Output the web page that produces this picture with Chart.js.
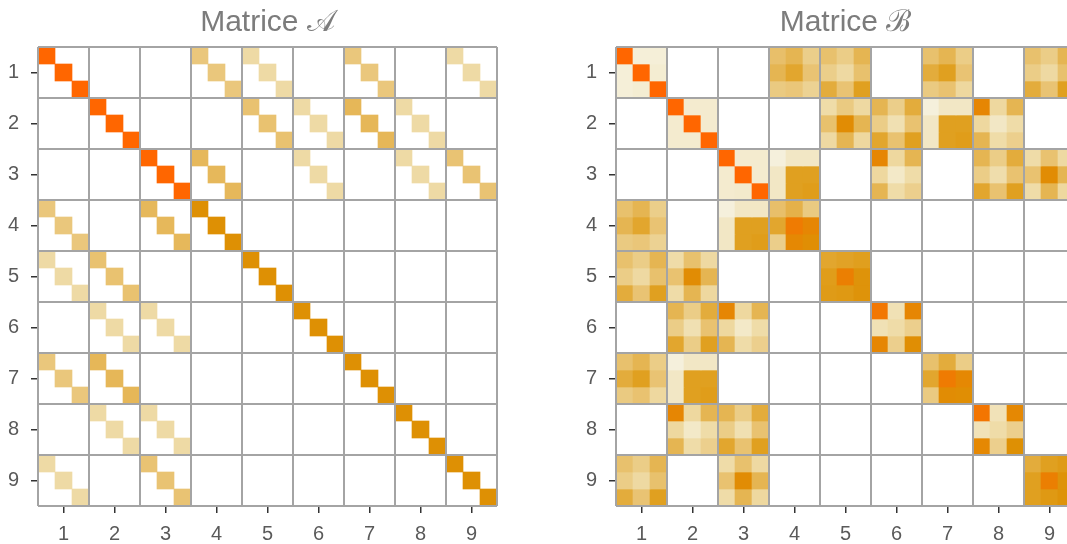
<!DOCTYPE html>
<html>
<head>
<meta charset="utf-8">
<script src="https://cdn.jsdelivr.net/npm/chart.js@4.4.1/dist/chart.umd.min.js"></script>
<style>
  html, body { margin: 0; padding: 0; background: #fff; overflow: hidden; width: 1067px; height: 544px; }
  canvas { position: absolute; top: 0; }
  #chartA { left: 0; }
  #chartB { left: 578px; }
</style>
</head>
<body>
<canvas id="chartA" width="535" height="544"></canvas>
<canvas id="chartB" width="535" height="544"></canvas>
<script>
// 27 x 27 matrices shown as 9 x 9 blocks of 3 x 3 entries
const blockLabels = ['1', '2', '3', '4', '5', '6', '7', '8', '9'];
const blockEdges = [0, 3, 6, 9, 12, 15, 18, 21, 24, 27];
const blockCentres = [1.5, 4.5, 7.5, 10.5, 13.5, 16.5, 19.5, 22.5, 25.5];

// Matrix A: diagonal value of each diagonal block
const diagA = [1, 1, 1, 0.8, 0.8, 0.8, 0.8, 0.8, 0.8];
// Matrix A: off-diagonal blocks [blockRow, blockCol, value on the block diagonal]
const offA = [
  [1, 4, 0.33], [1, 5, 0.19], [1, 7, 0.33], [1, 9, 0.19],
  [2, 5, 0.37], [2, 6, 0.19], [2, 7, 0.45], [2, 8, 0.19],
  [3, 4, 0.44], [3, 6, 0.19], [3, 8, 0.19], [3, 9, 0.36],
  [4, 1, 0.33], [4, 3, 0.44],
  [5, 1, 0.19], [5, 2, 0.37],
  [6, 2, 0.19], [6, 3, 0.19],
  [7, 1, 0.33], [7, 2, 0.45],
  [8, 2, 0.19], [8, 3, 0.19],
  [9, 1, 0.19], [9, 3, 0.36]
];

// Matrix B: non-zero blocks [blockRow, blockCol, 3x3 entries]
const blocksB = [
  [1, 1, [[1, .03, .03], [.03, 1, .05], [.03, .05, 1]]],
  [1, 4, [[.39, .47, .28], [.47, .6, .36], [.31, .34, .25]]],
  [1, 5, [[.38, .29, .47], [.28, .2, .38], [.55, .36, .65]]],
  [1, 7, [[.38, .47, .29], [.55, .65, .36], [.31, .37, .21]]],
  [1, 9, [[.38, .29, .47], [.29, .2, .38], [.55, .36, .65]]],
  [2, 2, [[1, .06, .06], [.06, 1, .06], [.06, .06, 1]]],
  [2, 5, [[.18, .31, .2], [.38, .82, .47], [.2, .47, .21]]],
  [2, 6, [[.47, .28, .55], [.29, .15, .37], [.6, .37, .65]]],
  [2, 7, [[.02, .09, .09], [.09, .65, .65], [.09, .65, .68]]],
  [2, 8, [[.85, .21, .47], [.21, .09, .18], [.47, .18, .27]]],
  [3, 3, [[1, .06, .06], [.06, 1, .06], [.06, .07, 1]]],
  [3, 4, [[.02, .09, .09], [.09, .65, .65], [.09, .65, .68]]],
  [3, 6, [[.85, .21, .47], [.21, .08, .18], [.47, .18, .27]]],
  [3, 8, [[.47, .29, .55], [.29, .17, .37], [.6, .37, .65]]],
  [3, 9, [[.18, .37, .2], [.37, .82, .47], [.18, .47, .21]]],
  [4, 1, [[.38, .47, .28], [.47, .6, .36], [.31, .34, .25]]],
  [4, 3, [[.02, .09, .09], [.09, .65, .65], [.09, .65, .68]]],
  [4, 4, [[.39, .5, .31], [.6, .9, .85], [.28, .84, .81]]],
  [5, 1, [[.38, .29, .47], [.29, .2, .38], [.55, .36, .65]]],
  [5, 2, [[.18, .38, .2], [.37, .82, .47], [.18, .47, .21]]],
  [5, 5, [[.6, .63, .66], [.68, .88, .77], [.7, .72, .77]]],
  [6, 2, [[.47, .29, .55], [.29, .15, .37], [.6, .29, .65]]],
  [6, 3, [[.85, .21, .47], [.21, .08, .18], [.47, .18, .27]]],
  [6, 6, [[.92, .14, .85], [.14, .18, .27], [.85, .27, .81]]],
  [7, 1, [[.38, .47, .29], [.55, .65, .36], [.31, .37, .21]]],
  [7, 2, [[.02, .09, .09], [.09, .65, .65], [.09, .65, .68]]],
  [7, 7, [[.38, .55, .29], [.6, .9, .84], [.31, .82, .81]]],
  [8, 2, [[.85, .21, .47], [.21, .08, .18], [.47, .18, .27]]],
  [8, 3, [[.47, .29, .55], [.29, .15, .37], [.6, .37, .65]]],
  [8, 8, [[.93, .13, .84], [.13, .18, .27], [.84, .27, .8]]],
  [9, 1, [[.38, .29, .47], [.29, .2, .38], [.55, .36, .65]]],
  [9, 3, [[.18, .38, .2], [.37, .82, .47], [.18, .47, .21]]],
  [9, 9, [[.55, .65, .7], [.65, .88, .77], [.65, .72, .77]]]
];

// colour ramp for positive entries: cream -> sand -> amber -> orange
const colorStops = [
  [0.00, [246, 243, 226]],
  [0.20, [238, 217, 162]],
  [0.45, [230, 183, 88]],
  [0.65, [224, 160, 32]],
  [0.80, [222, 144, 4]],
  [1.00, [255, 102, 0]]
];
function colorFor(v) {
  for (let k = 1; k < colorStops.length; k++) {
    const [v1, c1] = colorStops[k];
    const [v0, c0] = colorStops[k - 1];
    if (v <= v1) {
      const t = (v - v0) / (v1 - v0);
      const c = c0.map((ch, i) => Math.round(ch + (c1[i] - ch) * t));
      return `rgb(${c[0]},${c[1]},${c[2]})`;
    }
  }
  const c = colorStops[colorStops.length - 1][1];
  return `rgb(${c[0]},${c[1]},${c[2]})`;
}

const N = 27;
function emptyMatrix() { return Array.from({ length: N }, () => new Array(N).fill(0)); }

// assemble A from its diagonal and its identity-like off-diagonal blocks
const matA = emptyMatrix();
diagA.forEach((v, b) => { for (let k = 0; k < 3; k++) matA[3 * b + k][3 * b + k] = v; });
offA.forEach(([bi, bj, v]) => { for (let k = 0; k < 3; k++) matA[3 * (bi - 1) + k][3 * (bj - 1) + k] = v; });

// assemble B from its full blocks
const matB = emptyMatrix();
blocksB.forEach(([bi, bj, vals]) => {
  vals.forEach((row, r) => row.forEach((v, c) => { matB[3 * (bi - 1) + r][3 * (bj - 1) + c] = v; }));
});

const columnLabels = Array.from({ length: N }, (_, i) => String(i + 1));

// one floating-bar dataset per matrix row; each bar spans one row of cells
function rowDatasets(M) {
  return M.map((row, r) => ({
    label: 'row ' + (r + 1),
    data: row.map(v => (v > 0 ? [r, r + 1] : null)),
    backgroundColor: row.map(v => (v > 0 ? colorFor(v) : 'rgba(0,0,0,0)')),
    borderWidth: 0,
    barPercentage: 1,
    categoryPercentage: 1,
    grouped: false
  }));
}

const FONT = 'Liberation Sans, Arial, sans-serif';
const gridColor = '#a4a4a4';

function gridScale(position, reverse, fitFn) {
  return {
    type: 'linear', position, min: 0, max: N, reverse, z: 1, offset: false,
    afterBuildTicks: s => { s.ticks = blockEdges.map(v => ({ value: v })); },
    afterFit: fitFn,
    grid: { color: gridColor, lineWidth: 2, drawTicks: false, z: 1, offset: false },
    border: { display: false },
    ticks: { display: false }
  };
}
function tickScale(position, reverse, fitFn, padding) {
  return {
    type: 'linear', position, min: 0, max: N, reverse, offset: false,
    afterBuildTicks: s => { s.ticks = blockCentres.map(v => ({ value: v })); },
    afterFit: fitFn,
    grid: { drawOnChartArea: false, color: '#333', lineWidth: 1.5, tickLength: 7, offset: false },
    border: { display: false },
    ticks: {
      font: { family: FONT, size: 20 }, color: '#5a5a5a', padding,
      callback: (value, index) => blockLabels[index]
    }
  };
}

function makeChart(id, title, M) {
  return new Chart(document.getElementById(id), {
    type: 'bar',
    data: { labels: columnLabels, datasets: rowDatasets(M) },
    options: {
      responsive: false,
      animation: false,
      devicePixelRatio: 1,
      layout: { padding: 0 },
      plugins: {
        legend: { display: false },
        tooltip: { enabled: false },
        title: {
          display: true, text: title, color: '#7c7c7c',
          font: { family: FONT, size: 30, weight: 'normal', lineHeight: '35px' },
          padding: { top: 5, bottom: 7 }
        }
      },
      scales: {
        x: { type: 'category', display: false, offset: true },
        y: { type: 'linear', display: false, min: 0, max: N, reverse: true },
        gx: gridScale('bottom', false, s => { s.height = 0; }),
        gy: gridScale('right', true, s => { s.width = 38; }),
        tx: tickScale('bottom', false, s => { s.height = 38; }, 9),
        ty: tickScale('left', true, s => { s.width = 38; }, 12)
      }
    }
  });
}

makeChart('chartA', 'Matrice \u{1D49C}', matA);
makeChart('chartB', 'Matrice \u212C', matB);
</script>
</body>
</html>
